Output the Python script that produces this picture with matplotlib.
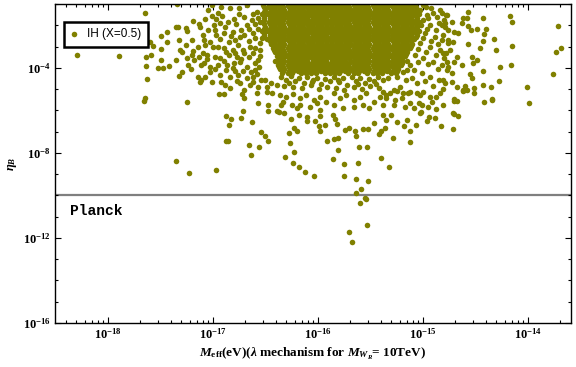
import matplotlib
matplotlib.use("Agg")
import matplotlib.pyplot as plt
from matplotlib.ticker import FixedLocator, LogLocator, FuncFormatter, NullFormatter
import numpy as np

plt.rcParams["font.family"] = ["Liberation Serif", "DejaVu Serif"]
plt.rcParams["mathtext.fontset"] = "custom"
plt.rcParams["mathtext.rm"] = "Liberation Serif:bold"
plt.rcParams["mathtext.it"] = "Liberation Serif:italic:bold"
plt.rcParams["mathtext.bf"] = "Liberation Serif:bold"

# log10 values (x: M_eff in eV, y: eta_B)
# dense core of the cloud, one list of x values per y row
core_logy = [-1.05, -1.15, -1.25, -1.35, -1.45, -1.55, -1.65, -1.75, -1.85, -1.95,
             -2.05, -2.15, -2.25, -2.35, -2.45, -2.55, -2.65, -2.75, -2.85, -2.95,
             -3.05, -3.15, -3.25, -3.35, -3.45, -3.55, -3.65, -3.75, -3.85, -3.95,
             -4.05, -4.15, -4.25]
core_logx = [
    [-16.52, -16.47, -16.43, -16.38, -16.34, -16.29, -16.25, -16.20, -16.16, -16.11, -16.07, -16.02, -15.98, -15.93, -15.89, -15.84, -15.80, -15.75, -15.71, -15.66, -15.62, -15.57, -15.53, -15.48, -15.44, -15.39, -15.35, -15.30, -15.26, -15.21, -15.17, -15.12, -15.08],
    [-16.51, -16.46, -16.42, -16.37, -16.33, -16.28, -16.24, -16.19, -16.15, -16.10, -16.06, -16.01, -15.97, -15.92, -15.88, -15.83, -15.79, -15.74, -15.70, -15.65, -15.61, -15.56, -15.52, -15.47, -15.43, -15.38, -15.34, -15.29, -15.25, -15.20, -15.16, -15.11, -15.07],
    [-16.50, -16.45, -16.41, -16.36, -16.32, -16.27, -16.23, -16.18, -16.14, -16.09, -16.05, -16.00, -15.96, -15.91, -15.87, -15.82, -15.78, -15.73, -15.69, -15.64, -15.60, -15.55, -15.51, -15.46, -15.42, -15.37, -15.33, -15.28, -15.24, -15.19, -15.15, -15.10, -15.06],
    [-16.51, -16.46, -16.42, -16.37, -16.33, -16.28, -16.24, -16.19, -16.15, -16.10, -16.06, -16.01, -15.97, -15.92, -15.88, -15.83, -15.79, -15.74, -15.70, -15.65, -15.61, -15.56, -15.52, -15.47, -15.43, -15.38, -15.34, -15.29, -15.25, -15.20, -15.16, -15.11, -15.07],
    [-16.53, -16.48, -16.43, -16.39, -16.34, -16.30, -16.25, -16.21, -16.16, -16.12, -16.07, -16.03, -15.98, -15.94, -15.89, -15.85, -15.80, -15.76, -15.71, -15.67, -15.62, -15.58, -15.53, -15.49, -15.44, -15.40, -15.35, -15.31, -15.26, -15.22, -15.17, -15.13, -15.08, -15.04],
    [-16.51, -16.46, -16.42, -16.37, -16.33, -16.28, -16.24, -16.19, -16.15, -16.10, -16.06, -16.01, -15.97, -15.92, -15.88, -15.83, -15.79, -15.74, -15.70, -15.65, -15.61, -15.56, -15.52, -15.47, -15.43, -15.38, -15.34, -15.29, -15.25, -15.20, -15.16, -15.11, -15.07],
    [-16.51, -16.46, -16.41, -16.37, -16.32, -16.28, -16.23, -16.19, -16.14, -16.10, -16.05, -16.01, -15.96, -15.92, -15.87, -15.83, -15.78, -15.74, -15.69, -15.65, -15.60, -15.56, -15.51, -15.47, -15.42, -15.38, -15.33, -15.29, -15.24, -15.20, -15.15, -15.11, -15.06],
    [-16.51, -16.46, -16.42, -16.37, -16.33, -16.28, -16.24, -16.19, -16.15, -16.10, -16.06, -16.01, -15.97, -15.92, -15.88, -15.83, -15.79, -15.74, -15.70, -15.65, -15.61, -15.56, -15.52, -15.47, -15.43, -15.38, -15.34, -15.29, -15.25, -15.20, -15.16, -15.11, -15.07],
    [-16.52, -16.47, -16.43, -16.38, -16.34, -16.29, -16.25, -16.20, -16.16, -16.11, -16.07, -16.02, -15.98, -15.93, -15.89, -15.84, -15.80, -15.75, -15.71, -15.66, -15.62, -15.57, -15.53, -15.48, -15.44, -15.39, -15.35, -15.30, -15.26, -15.21, -15.17, -15.12, -15.08, -15.04],
    [-16.51, -16.46, -16.42, -16.37, -16.33, -16.28, -16.24, -16.19, -16.15, -16.10, -16.06, -16.01, -15.97, -15.92, -15.88, -15.83, -15.79, -15.74, -15.70, -15.65, -15.61, -15.56, -15.52, -15.47, -15.43, -15.38, -15.34, -15.29, -15.25, -15.20, -15.16, -15.11, -15.07],
    [-16.50, -16.45, -16.41, -16.36, -16.32, -16.27, -16.23, -16.18, -16.14, -16.09, -16.05, -16.00, -15.96, -15.91, -15.87, -15.82, -15.78, -15.73, -15.69, -15.64, -15.60, -15.55, -15.51, -15.46, -15.42, -15.37, -15.33, -15.28, -15.24, -15.19, -15.15, -15.10, -15.06],
    [-16.51, -16.46, -16.42, -16.37, -16.33, -16.28, -16.24, -16.19, -16.15, -16.10, -16.06, -16.01, -15.97, -15.92, -15.88, -15.83, -15.79, -15.74, -15.70, -15.65, -15.61, -15.56, -15.52, -15.47, -15.43, -15.38, -15.34, -15.29, -15.25, -15.20, -15.16, -15.11, -15.07],
    [-16.53, -16.48, -16.43, -16.39, -16.34, -16.30, -16.25, -16.21, -16.16, -16.12, -16.07, -16.03, -15.98, -15.94, -15.89, -15.85, -15.80, -15.76, -15.71, -15.67, -15.62, -15.58, -15.53, -15.49, -15.44, -15.40, -15.35, -15.31, -15.26, -15.22, -15.17, -15.13, -15.08, -15.04],
    [-16.51, -16.46, -16.42, -16.37, -16.33, -16.28, -16.24, -16.19, -16.15, -16.10, -16.06, -16.01, -15.97, -15.92, -15.88, -15.83, -15.79, -15.74, -15.70, -15.65, -15.61, -15.56, -15.52, -15.47, -15.43, -15.38, -15.34, -15.29, -15.25, -15.20, -15.16, -15.11, -15.07],
    [-16.51, -16.46, -16.41, -16.37, -16.32, -16.28, -16.23, -16.19, -16.14, -16.10, -16.05, -16.01, -15.96, -15.92, -15.87, -15.83, -15.78, -15.74, -15.69, -15.65, -15.60, -15.56, -15.51, -15.47, -15.42, -15.38, -15.33, -15.29, -15.24, -15.20, -15.15, -15.11, -15.06],
    [-16.51, -16.46, -16.42, -16.37, -16.33, -16.28, -16.24, -16.19, -16.15, -16.10, -16.06, -16.01, -15.97, -15.92, -15.88, -15.83, -15.79, -15.74, -15.70, -15.65, -15.61, -15.56, -15.52, -15.47, -15.43, -15.38, -15.34, -15.29, -15.25, -15.20, -15.16, -15.11, -15.07],
    [-16.49, -16.44, -16.40, -16.35, -16.31, -16.26, -16.22, -16.17, -16.13, -16.08, -16.04, -15.99, -15.95, -15.90, -15.86, -15.81, -15.77, -15.72, -15.68, -15.63, -15.59, -15.54, -15.50, -15.45, -15.41, -15.36, -15.32, -15.27, -15.23, -15.18, -15.14, -15.09],
    [-16.46, -16.42, -16.37, -16.33, -16.28, -16.24, -16.19, -16.15, -16.10, -16.06, -16.01, -15.97, -15.92, -15.88, -15.83, -15.79, -15.74, -15.70, -15.65, -15.61, -15.56, -15.52, -15.47, -15.43, -15.38, -15.34, -15.29, -15.25, -15.20, -15.16, -15.11],
    [-16.45, -16.41, -16.36, -16.32, -16.27, -16.23, -16.18, -16.14, -16.09, -16.05, -16.00, -15.96, -15.91, -15.87, -15.82, -15.78, -15.73, -15.69, -15.64, -15.60, -15.55, -15.51, -15.46, -15.42, -15.37, -15.33, -15.28, -15.24, -15.19, -15.15, -15.10],
    [-16.42, -16.37, -16.33, -16.28, -16.24, -16.19, -16.15, -16.10, -16.06, -16.01, -15.97, -15.92, -15.88, -15.83, -15.79, -15.74, -15.70, -15.65, -15.61, -15.56, -15.52, -15.47, -15.43, -15.38, -15.34, -15.29, -15.25, -15.20, -15.16, -15.11],
    [-16.43, -16.38, -16.34, -16.29, -16.25, -16.20, -16.16, -16.11, -16.07, -16.02, -15.98, -15.93, -15.89, -15.84, -15.80, -15.75, -15.71, -15.66, -15.62, -15.57, -15.53, -15.48, -15.44, -15.39, -15.35, -15.30, -15.26, -15.21, -15.17, -15.12],
    [-16.42, -16.37, -16.33, -16.28, -16.24, -16.19, -16.15, -16.10, -16.06, -16.01, -15.97, -15.92, -15.88, -15.83, -15.79, -15.74, -15.70, -15.65, -15.61, -15.56, -15.52, -15.47, -15.43, -15.38, -15.34, -15.29, -15.25, -15.20, -15.16],
    [-16.41, -16.36, -16.32, -16.27, -16.23, -16.18, -16.14, -16.09, -16.05, -16.00, -15.96, -15.91, -15.87, -15.82, -15.78, -15.73, -15.69, -15.64, -15.60, -15.55, -15.51, -15.46, -15.42, -15.37, -15.33, -15.28, -15.24, -15.19, -15.15],
    [-16.37, -16.33, -16.28, -16.24, -16.19, -16.15, -16.10, -16.06, -16.01, -15.97, -15.92, -15.88, -15.83, -15.79, -15.74, -15.70, -15.65, -15.61, -15.56, -15.52, -15.47, -15.43, -15.38, -15.34, -15.29, -15.25, -15.20, -15.16],
    [-16.39, -16.34, -16.30, -16.25, -16.21, -16.16, -16.12, -16.07, -16.03, -15.98, -15.94, -15.89, -15.85, -15.80, -15.76, -15.71, -15.67, -15.62, -15.58, -15.53, -15.49, -15.44, -15.40, -15.35, -15.31, -15.26, -15.22, -15.17],
    [-16.37, -16.33, -16.28, -16.24, -16.19, -16.15, -16.10, -16.06, -16.01, -15.97, -15.92, -15.88, -15.83, -15.79, -15.74, -15.70, -15.65, -15.61, -15.56, -15.52, -15.47, -15.43, -15.38, -15.34, -15.29, -15.25, -15.20],
    [-16.41, -16.37, -16.32, -16.28, -16.23, -16.19, -16.14, -16.10, -16.05, -16.01, -15.96, -15.92, -15.87, -15.83, -15.78, -15.74, -15.69, -15.65, -15.60, -15.56, -15.51, -15.47, -15.42, -15.38, -15.33, -15.29, -15.24, -15.20, -15.15],
    [-16.37, -16.33, -16.28, -16.24, -16.19, -16.15, -16.10, -16.06, -16.01, -15.97, -15.92, -15.88, -15.83, -15.79, -15.74, -15.70, -15.65, -15.61, -15.56, -15.52, -15.47, -15.43, -15.38, -15.34, -15.29, -15.25, -15.20],
    [-16.38, -16.34, -16.29, -16.25, -16.20, -16.16, -16.11, -16.07, -16.02, -15.98, -15.93, -15.89, -15.84, -15.80, -15.75, -15.71, -15.66, -15.62, -15.57, -15.53, -15.48, -15.44, -15.39, -15.35, -15.30, -15.26, -15.21],
    [-16.37, -16.33, -16.28, -16.24, -16.19, -16.15, -16.10, -16.06, -16.01, -15.97, -15.92, -15.88, -15.83, -15.79, -15.74, -15.70, -15.65, -15.61, -15.56, -15.52, -15.47, -15.43, -15.38, -15.34, -15.29, -15.25],
    [-16.36, -16.32, -16.27, -16.23, -16.18, -16.14, -16.09, -16.05, -16.00, -15.96, -15.91, -15.87, -15.82, -15.78, -15.73, -15.69, -15.64, -15.60, -15.55, -15.51, -15.46, -15.42, -15.37, -15.33, -15.28, -15.24],
    [-16.33, -16.28, -16.24, -16.19, -16.15, -16.10, -16.06, -16.01, -15.97, -15.92, -15.88, -15.83, -15.79, -15.74, -15.70, -15.65, -15.61, -15.56, -15.52, -15.47, -15.43, -15.38, -15.34, -15.29, -15.25],
    [-16.34, -16.29, -16.25, -16.16, -16.11, -16.07, -16.02, -15.93, -15.89, -15.84, -15.80, -15.71, -15.66, -15.62, -15.53, -15.48, -15.44, -15.39, -15.30, -15.26],
]

# looser points around the core: (log x, log y)
left_wing = [
    (-17.01, -1.54), (-16.95, -1.43), (-16.99, -1.98), (-16.93, -1.90), (-16.89, -2.05),
    (-16.97, -2.45), (-16.90, -2.37), (-16.81, -2.29), (-16.73, -2.21), (-16.68, -1.98),
    (-16.58, -1.35), (-16.57, -1.66), (-16.62, -2.37), (-16.79, -2.68), (-16.74, -2.53),
    (-16.85, -2.76), (-17.03, -2.76), (-17.08, -2.92), (-17.00, -3.00), (-16.95, -3.00),
    (-16.90, -3.07), (-16.81, -3.15), (-16.71, -3.15), (-16.65, -3.00), (-16.55, -2.84),
    (-17.06, -3.39), (-16.98, -3.47), (-16.93, -3.55), (-16.85, -3.39), (-16.77, -3.47),
    (-16.70, -3.31), (-16.62, -3.31), (-16.57, -3.62), (-17.09, -3.78), (-17.03, -3.94),
    (-16.95, -3.86), (-16.87, -3.86), (-16.81, -4.02), (-16.74, -3.70), (-16.68, -3.94),
    (-16.60, -4.09), (-17.03, -4.17), (-16.93, -4.33), (-16.84, -4.41), (-16.76, -4.33),
    (-16.68, -4.49), (-16.62, -4.41), (-16.54, -4.56), (-17.01, -4.64), (-16.92, -4.64),
    (-16.84, -4.96), (-16.74, -4.72), (-16.70, -5.04), (-16.65, -4.80), (-16.57, -4.88),
    (-16.49, -4.88), (-16.39, -4.80), (-17.08, -4.41), (-17.11, -4.56), (-17.01, -1.04),
    (-16.68, -1.04), (-16.47, -1.11), (-16.80, -1.70), (-16.63, -1.75), (-16.84, -1.20),
    (-17.05, -1.25), (-16.97, -1.70), (-16.91, -1.55), (-16.86, -1.82), (-16.78, -1.95),
    (-16.75, -1.45), (-16.70, -1.62), (-16.66, -2.18), (-16.60, -1.95), (-16.57, -2.15),
    (-16.60, -2.60), (-16.66, -2.72), (-16.70, -2.45), (-16.76, -2.90), (-16.83, -2.50),
    (-16.93, -2.62), (-17.05, -2.20), (-17.08, -1.70), (-16.98, -2.20), (-16.88, -3.25),
    (-16.79, -3.30), (-16.73, -3.60), (-16.66, -3.50), (-16.60, -3.75), (-16.55, -3.45),
    (-16.56, -3.95), (-16.64, -4.20), (-16.71, -4.15), (-16.79, -4.15), (-16.88, -4.10),
    (-16.98, -4.05), (-17.06, -3.60), (-16.90, -3.68), (-16.80, -3.75), (-16.58, -4.30),
    (-16.50, -4.55), (-16.45, -4.70), (-16.77, -4.60), (-16.89, -4.80), (-16.62, -4.65),
    (-16.53, -2.60), (-16.55, -3.15), (-16.60, -3.05), (-16.55, -1.85), (-16.62, -1.45),
    (-16.75, -1.20), (-16.92, -1.15),
]
right_wing = [
    (-15.03, -1.27), (-14.97, -1.11), (-14.90, -1.43), (-14.84, -1.27), (-14.78, -1.51),
    (-15.00, -1.74), (-14.93, -1.98), (-14.85, -1.90), (-14.79, -2.05), (-15.06, -2.29),
    (-14.98, -2.37), (-14.89, -2.53), (-14.81, -2.45), (-14.76, -2.68), (-15.03, -2.84),
    (-14.93, -3.00), (-14.84, -3.15), (-14.78, -3.31), (-15.08, -3.39), (-15.00, -3.55),
    (-14.90, -3.70), (-14.82, -3.86), (-14.76, -3.94), (-15.09, -4.09), (-15.01, -4.25),
    (-14.93, -4.41), (-14.85, -4.56), (-14.79, -4.72), (-15.06, -4.72), (-15.16, -4.56),
    (-15.22, -4.88), (-15.28, -5.04), (-15.14, -5.19), (-15.03, -5.27), (-14.93, -5.35),
    (-14.84, -5.19), (-15.19, -4.17), (-15.25, -4.41), (-15.12, -3.86), (-14.95, -1.65),
    (-15.00, -1.05), (-14.92, -1.20), (-14.87, -1.60), (-14.96, -1.50), (-15.02, -2.00),
    (-14.96, -2.15), (-14.88, -2.20), (-14.82, -2.00), (-15.00, -2.60), (-14.92, -2.75),
    (-14.86, -2.85), (-15.05, -3.10), (-14.97, -3.25), (-14.88, -3.40), (-14.95, -3.80),
    (-15.05, -3.70), (-14.86, -4.05), (-14.98, -4.60), (-14.90, -4.85), (-15.10, -4.45),
    (-15.15, -4.10), (-14.80, -3.55), (-14.80, -1.75),
]
lower_fringe = [
    (-16.35, -4.42), (-16.30, -4.55), (-16.26, -4.40), (-16.22, -4.62), (-16.18, -4.47),
    (-16.13, -4.70), (-16.10, -4.41), (-16.05, -4.58), (-16.01, -4.45), (-15.97, -4.75),
    (-15.93, -4.50), (-15.89, -4.62), (-15.85, -4.43), (-15.80, -4.68), (-15.76, -4.49),
    (-15.72, -4.80), (-15.68, -4.44), (-15.64, -4.60), (-15.60, -4.46), (-15.55, -4.72),
    (-15.51, -4.50), (-15.47, -4.63), (-15.43, -4.42), (-15.38, -4.56), (-15.33, -4.45),
    (-16.32, -4.85), (-16.24, -4.90), (-16.15, -4.95), (-16.07, -4.82), (-15.99, -4.98),
    (-15.91, -4.88), (-15.83, -4.95), (-15.75, -5.02), (-15.66, -4.90), (-15.58, -4.97),
    (-15.50, -4.86), (-15.42, -4.92), (-16.28, -4.72), (-16.06, -4.68), (-15.81, -4.56),
    (-15.62, -4.76), (-15.45, -4.74),
    (-16.58, -5.16), (-16.49, -5.11), (-16.44, -5.19), (-16.36, -5.27), (-16.30, -5.35),
    (-16.24, -5.22), (-16.17, -5.43), (-16.11, -5.27), (-16.04, -5.51), (-15.98, -5.35),
    (-15.92, -5.58), (-15.85, -5.19), (-15.79, -5.43), (-15.73, -5.27), (-15.66, -5.51),
    (-15.60, -5.35), (-15.54, -5.19), (-15.47, -5.58), (-15.41, -5.35), (-15.35, -5.27),
    (-16.33, -5.58), (-16.17, -5.74), (-16.08, -5.82), (-16.01, -5.66), (-15.85, -5.74),
    (-15.76, -5.90), (-15.66, -5.82), (-15.57, -5.74), (-15.51, -5.90), (-15.98, -5.98),
    (-16.20, -5.90), (-16.35, -5.74), (-16.25, -5.74),
    (-15.38, -5.11), (-15.31, -5.19), (-15.25, -5.08), (-15.19, -5.16), (-15.12, -5.11),
    (-15.06, -5.19), (-15.00, -5.11), (-15.35, -5.43), (-15.27, -5.51), (-15.20, -5.43),
    (-15.12, -5.66), (-15.04, -5.66), (-15.38, -5.74), (-15.28, -5.74), (-15.17, -5.82),
    (-15.09, -5.90), (-15.01, -5.74),
]
# isolated points
sparse = [
    (-18.30, -3.39), (-17.90, -3.44), (-17.65, -1.41), (-17.65, -5.41), (-17.66, -5.55),
    (-17.64, -3.48), (-17.64, -3.91), (-17.63, -4.52), (-17.60, -2.78), (-17.57, -2.96),
    (-17.59, -3.39), (-17.50, -2.49), (-17.50, -3.11), (-17.50, -3.62), (-17.52, -4.00),
    (-17.48, -4.00), (-17.44, -2.31), (-17.44, -2.78), (-17.42, -3.91), (-17.35, -2.07),
    (-17.33, -2.07), (-17.35, -3.62), (-17.32, -2.68), (-17.31, -3.15), (-17.30, -3.25),
    (-17.32, -4.38), (-17.30, -4.19), (-17.26, -2.12), (-17.25, -2.26), (-17.26, -2.92),
    (-17.25, -3.53), (-17.24, -3.86), (-17.19, -1.79), (-17.20, -2.68), (-17.19, -3.20),
    (-17.20, -3.39), (-17.21, -4.05), (-17.18, -3.62), (-17.13, -1.93), (-17.12, -2.07),
    (-17.10, -2.45), (-17.14, -3.01), (-17.13, -3.48), (-17.11, -3.86), (-17.14, -4.42),
    (-17.12, -4.66), (-17.09, -2.68), (-17.10, -3.29), (-17.25, -5.60), (-17.35, -8.38),
    (-17.23, -8.94), (-17.34, -0.99),
    (-16.97, -8.80), (-16.88, -7.44), (-16.86, -7.44), (-16.88, -6.26), (-16.83, -6.40),
    (-16.85, -6.68), (-16.94, -5.22), (-16.90, -5.22), (-16.73, -6.35), (-16.71, -6.02),
    (-16.72, -5.22), (-16.70, -5.41), (-16.63, -6.54), (-16.66, -7.62), (-16.64, -8.09),
    (-16.57, -5.65), (-16.48, -5.74), (-16.48, -6.02), (-16.54, -7.01), (-16.50, -7.20),
    (-16.48, -7.44), (-16.56, -7.72), (-16.39, -6.02), (-16.37, -6.07), (-16.32, -6.12),
    (-16.28, -7.06), (-16.23, -6.82), (-16.20, -6.96), (-16.27, -7.53), (-16.23, -7.95),
    (-16.31, -8.19), (-16.24, -8.47), (-16.18, -8.66), (-16.12, -8.89), (-16.04, -9.08),
    (-16.26, -6.40), (-16.18, -6.21), (-16.10, -6.31), (-16.10, -6.49), (-16.03, -6.49),
    (-15.98, -6.26), (-15.99, -6.73), (-15.98, -6.96), (-15.93, -6.68), (-15.86, -6.21),
    (-15.84, -6.40), (-15.82, -6.64), (-15.91, -7.44), (-15.85, -7.34), (-15.81, -7.29),
    (-15.81, -7.86), (-15.86, -8.28), (-15.75, -8.52), (-15.75, -9.08), (-15.74, -6.92),
    (-15.70, -6.82), (-15.65, -6.96), (-15.64, -7.20), (-15.61, -7.72), (-15.53, -7.72),
    (-15.62, -8.47), (-15.64, -9.22), (-15.59, -9.69), (-15.52, -9.32), (-15.64, -9.88),
    (-15.55, -10.12), (-15.54, -10.16), (-15.60, -10.35), (-15.53, -11.39), (-15.70, -11.72),
    (-15.68, -12.19), (-15.57, -6.87), (-15.52, -6.87), (-15.47, -6.59), (-15.38, -6.21),
    (-15.35, -6.45), (-15.42, -7.11), (-15.40, -6.96), (-15.40, -8.24), (-15.32, -8.66),
    (-15.29, -7.29), (-15.12, -7.48), (-15.12, -6.96), (-15.18, -6.73), (-15.07, -6.68),
    (-15.15, -6.45), (-15.25, -6.54), (-15.36, -6.82), (-15.30, -6.21), (-14.96, -6.49),
    (-14.94, -6.31), (-14.89, -6.35), (-14.88, -5.93), (-14.83, -6.73), (-14.81, -5.74),
    (-14.71, -6.87), (-14.71, -6.12), (-14.70, -6.16), (-14.67, -6.26), (-14.70, -5.55),
    (-14.68, -5.55), (-14.62, -5.08), (-14.51, -5.18), (-14.42, -5.60), (-14.34, -5.51),
    (-13.99, -5.65), (-15.03, -6.12), (-15.02, -6.07), (-14.95, -5.84), (-14.91, -5.60),
    (-14.88, -5.36),
    (-13.71, -2.02), (-13.69, -3.06), (-13.73, -3.25), (-13.76, -4.28), (-14.17, -1.55),
    (-14.15, -1.84), (-14.15, -2.96), (-14.16, -3.86), (-14.01, -4.89), (-14.32, -2.64),
    (-14.30, -3.15), (-14.27, -3.95), (-14.28, -4.61), (-14.35, -4.89), (-14.43, -1.65),
    (-14.40, -2.16), (-14.42, -2.40), (-14.43, -2.73), (-14.46, -3.06), (-14.43, -4.14),
    (-14.43, -4.80), (-14.57, -1.36), (-14.58, -1.65), (-14.62, -1.65), (-14.63, -1.88),
    (-14.57, -2.02), (-14.54, -2.21), (-14.49, -2.16), (-14.57, -2.87), (-14.53, -3.48),
    (-14.49, -3.62), (-14.52, -3.76), (-14.53, -4.47), (-14.55, -4.28), (-14.51, -4.94),
    (-14.60, -4.85), (-14.62, -5.04), (-14.70, -5.46), (-14.34, -5.46),
    (-14.82, -1.41), (-14.77, -1.51), (-14.79, -1.88), (-14.72, -1.84), (-14.76, -2.21),
    (-14.70, -2.31), (-14.67, -2.35), (-14.82, -2.68), (-14.76, -2.82), (-14.71, -2.78),
    (-14.74, -3.15), (-14.81, -3.29), (-14.68, -3.48), (-14.77, -3.72), (-14.70, -3.72),
    (-14.63, -3.86), (-14.77, -4.09), (-14.72, -4.24), (-14.81, -4.56), (-14.72, -4.66),
    (-14.68, -4.89), (-14.81, -4.99), (-14.58, -5.04),
]

planck_eta = 1e-10
legend_label = "IH (X=0.5)"
x_decades = [1e-18, 1e-17, 1e-16, 1e-15, 1e-14]
y_decades = [1e-16, 1e-12, 1e-8, 1e-4]

# gather everything into one scatter
xs, ys = [], []
for ly, row in zip(core_logy, core_logx):
    xs += row
    ys += [ly] * len(row)
for group in (left_wing, right_wing, lower_fringe, sparse):
    g = np.array(group)
    xs += list(g[:, 0])
    ys += list(g[:, 1])
xs = 10.0 ** np.array(xs)
ys = 10.0 ** np.array(ys)

fig = plt.figure(figsize=(5.76, 3.67), dpi=100)
ax = fig.add_axes([55 / 576, 44 / 367, 516 / 576, 319 / 367])

ax.scatter(xs, ys, s=16, color="#808000", linewidths=0, label=legend_label, zorder=2)
ax.axhline(planck_eta, color="#7f7f7f", lw=1.6, zorder=1)
ax.text(0.029, 0.352, "Planck", transform=ax.transAxes, family="Liberation Mono",
        fontweight="bold", fontsize=10.5, va="center", ha="left")

ax.set_xscale("log")
ax.set_yscale("log")
ax.set_xlim(10 ** -18.505, 10 ** -13.59)
ax.set_ylim(1e-16, 10 ** -0.99)


def sci_label(v, pos):
    return r"$\mathrm{10^{%d}}$" % int(round(np.log10(v)))


ax.xaxis.set_major_locator(FixedLocator(x_decades))
ax.xaxis.set_minor_locator(LogLocator(base=10, subs=np.arange(2, 10), numticks=20))
ax.xaxis.set_major_formatter(FuncFormatter(sci_label))
ax.xaxis.set_minor_formatter(NullFormatter())
ax.yaxis.set_major_locator(FixedLocator(y_decades))
ax.yaxis.set_minor_locator(LogLocator(base=10, subs=(1.0,), numticks=30))
ax.yaxis.set_major_formatter(FuncFormatter(sci_label))
ax.yaxis.set_minor_formatter(NullFormatter())
ax.tick_params(which="both", direction="in", top=True, right=True, labelsize=9, width=0.8)
ax.tick_params(which="major", length=4.5, pad=3)
ax.tick_params(which="minor", length=2.5)
for sp in ax.spines.values():
    sp.set_linewidth(1.0)

ax.set_xlabel(r"$M_{\mathrm{eff}}$(eV)($\lambda$ mechanism for $M_{W_R}$= 10TeV)",
              fontweight="bold", fontsize=9.5, labelpad=3)
ax.set_ylabel(r"$\eta_B$", fontsize=9, labelpad=3)

leg = ax.legend(loc="upper left", bbox_to_anchor=(0.017, 0.944), borderaxespad=0,
                fancybox=False, edgecolor="black", framealpha=1, handlelength=0.7,
                handletextpad=0.7, borderpad=0.55,
                prop={"family": "Liberation Sans", "size": 8.5})
leg.get_frame().set_linewidth(1.8)

fig.savefig("out.png", dpi=100)
